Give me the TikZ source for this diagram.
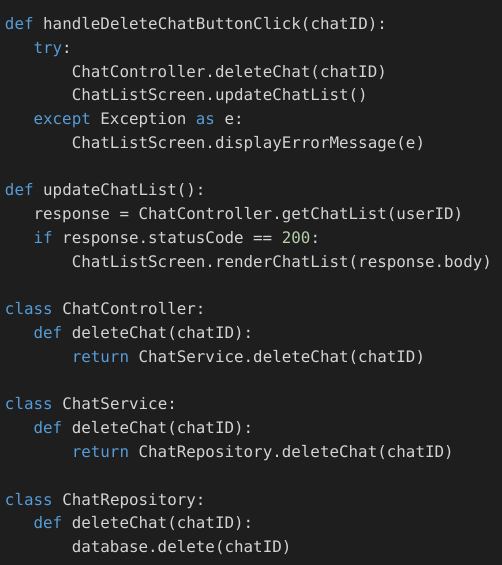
\documentclass[tikz,border=0pt]{standalone}
\usepackage{fontspec}
\setmonofont{DejaVu Sans Mono}
\definecolor{bgc}{HTML}{1E1E1E}
\definecolor{kwc}{HTML}{569CD6}
\definecolor{txc}{HTML}{D4D4D4}
\definecolor{numc}{HTML}{B5CEA8}
\newcommand{\kw}[1]{\textcolor{kwc}{#1}}
\newcommand{\nm}[1]{\textcolor{numc}{#1}}
\begin{document}
\begin{tikzpicture}[x=1pt,y=1pt,
  codeline/.style={anchor=base west,inner sep=0pt,text=txc,
    font=\ttfamily\fontsize{15.86}{23.78}\selectfont}]
\fill[bgc] (0,0) rectangle (502,-565);
\useasboundingbox (0,0) rectangle (502,-565);
\def\ia{4.8}\def\ib{33.4}\def\ic{71.6}
\node[codeline] (l1)  at (\ia,-29.5)  {\kw{def} handleDeleteChatButtonClick(chatID):};
\node[codeline] (l2)  at (\ib,-53.3)  {\kw{try}:};
\node[codeline] (l3)  at (\ic,-77.1)  {ChatController.deleteChat(chatID)};
\node[codeline] (l4)  at (\ic,-100.8) {ChatListScreen.updateChatList()};
\node[codeline] (l5)  at (\ib,-124.6) {\kw{except} Exception \kw{as} e:};
\node[codeline] (l6)  at (\ic,-148.4) {ChatListScreen.displayErrorMessage(e)};
\node[codeline] (l8)  at (\ia,-195.9) {\kw{def} updateChatList():};
\node[codeline] (l9)  at (\ib,-219.7) {response = ChatController.getChatList(userID)};
\node[codeline] (l10) at (\ib,-243.5) {\kw{if} response.statusCode == \nm{200}:};
\node[codeline] (l11) at (\ic,-267.3) {ChatListScreen.renderChatList(response.body)};
\node[codeline] (l13) at (\ia,-314.8) {\kw{class} ChatController:};
\node[codeline] (l14) at (\ib,-338.6) {\kw{def} deleteChat(chatID):};
\node[codeline] (l15) at (\ic,-362.4) {\kw{return} ChatService.deleteChat(chatID)};
\node[codeline] (l17) at (\ia,-409.9) {\kw{class} ChatService:};
\node[codeline] (l18) at (\ib,-433.7) {\kw{def} deleteChat(chatID):};
\node[codeline] (l19) at (\ic,-457.5) {\kw{return} ChatRepository.deleteChat(chatID)};
\node[codeline] (l21) at (\ia,-505.0) {\kw{class} ChatRepository:};
\node[codeline] (l22) at (\ib,-528.8) {\kw{def} deleteChat(chatID):};
\node[codeline] (l23) at (\ic,-552.6) {database.delete(chatID)};
\end{tikzpicture}
\end{document}
